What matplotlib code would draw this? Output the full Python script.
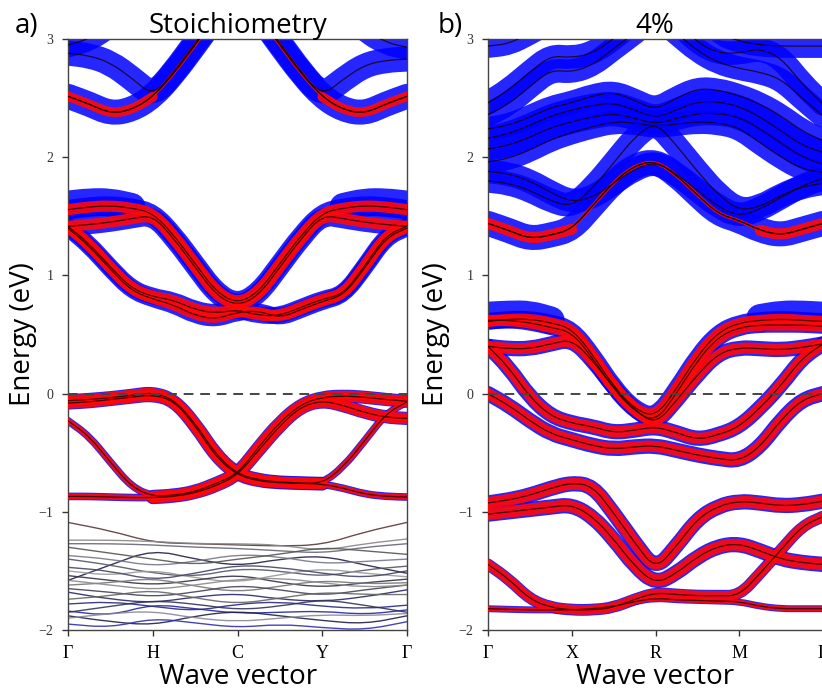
import numpy as np
import matplotlib.pyplot as plt
from matplotlib.path import Path
from matplotlib.patches import PathPatch

nan = np.nan

# k-path sampling: 4 segments, 4 steps each (17 points); valence manifold uses 9 points
K = np.linspace(0, 4, 17)
K9 = np.linspace(0, 4, 9)

labels_a = ["Γ", "H", "C", "Y", "Γ"]
labels_b = ["Γ", "X", "R", "M", "Γ"]
yticks = [-2, -1, 0, 1, 2, 3]
ytick_labels = ["−2", "−1", "0", "1", "2", "3"]

# ---------------- panel a: stoichiometry ----------------
a_up_dip = [2.515, 2.45, 2.37, 2.40, 2.51, 2.71, 2.95, 3.2, 3.4, 3.2, 2.95, 2.71, 2.51, 2.40, 2.37, 2.45, 2.515]
a_up_dip_red = [2.515, 2.45, 2.37, 2.40, 2.51, nan, nan, nan, nan, nan, nan, nan, 2.51, 2.40, 2.37, 2.45, 2.515]
a_up_1 = [2.88, 2.86, 2.80, 2.67, 2.52, 2.72, 2.97, 3.2, 3.4, 3.2, 2.97, 2.72, 2.52, 2.66, 2.78, 2.82, 2.83]
a_up_2 = [2.95, 3.0, 3.12, 3.3, 3.45, 3.6, 3.6, 3.6, 3.6, 3.6, 3.6, 3.6, 3.45, 3.28, 3.08, 2.97, 2.93]
a_cV1 = [1.556, 1.58, 1.59, 1.57, 1.53, 1.34, 1.10, 0.86, 0.76, 0.86, 1.10, 1.34, 1.53, 1.57, 1.59, 1.58, 1.556]
a_cV2 = [1.415, 1.43, 1.45, 1.48, 1.51, 1.31, 1.07, 0.83, 0.74, 0.83, 1.07, 1.31, 1.51, 1.48, 1.45, 1.43, 1.415]
a_cW1 = [1.415, 1.27, 1.07, 0.89, 0.82, 0.79, 0.71, 0.68, 0.71, 0.66, 0.66, 0.73, 0.80, 0.84, 1.08, 1.34, 1.415]
a_cW2 = [1.40, 1.25, 1.05, 0.87, 0.80, 0.75, 0.66, 0.63, 0.69, 0.70, 0.64, 0.71, 0.78, 0.83, 1.06, 1.32, 1.40]
a_c_halo = [1.60, 1.62, 1.62, 1.58, nan, nan, nan, nan, nan, nan, nan, nan, nan, 1.58, 1.62, 1.62, 1.60]

# valence bands near the Fermi level, followed through the crossings
a_v1 = [-0.06, -0.05, -0.035, -0.015, 0.01, -0.05, -0.25, -0.52, -0.68, -0.73, -0.75, -0.755, -0.76, -0.62, -0.40, -0.17, -0.07]
a_v1_thick = [-0.06, -0.05, -0.035, -0.015, 0.01, -0.05, -0.25, -0.52, -0.68, -0.73, -0.75, -0.755, -0.76, nan, nan, nan, nan]
a_v2 = [-0.08, -0.07, -0.05, -0.03, -0.01, -0.06, -0.27, -0.54, -0.69, -0.74, -0.755, -0.76, -0.765, -0.80, -0.85, -0.87, -0.875]
a_v2_thick = [-0.08, -0.07, -0.05, -0.03, -0.01, -0.06, -0.27, -0.54, -0.69, -0.74, -0.755, -0.76, -0.765, nan, nan, nan, nan]
a_v3 = [-0.23, -0.36, -0.58, -0.79, -0.87, -0.86, -0.83, -0.76, -0.68, -0.45, -0.24, -0.09, -0.03, -0.02, -0.03, -0.05, -0.065]
a_v3_thick = [nan, nan, nan, nan, -0.87, -0.86, -0.83, -0.76, -0.68, -0.45, -0.24, -0.09, -0.03, -0.02, -0.03, -0.05, -0.065]
a_v4 = [-0.87, -0.87, -0.875, -0.88, -0.88, -0.87, -0.84, -0.78, -0.69, -0.48, -0.27, -0.11, -0.06, -0.10, -0.16, -0.20, -0.21]
a_v4_thick = [nan, nan, nan, nan, -0.88, -0.87, -0.84, -0.78, -0.69, -0.48, -0.27, -0.11, -0.06, -0.10, -0.16, -0.20, -0.21]

# deep valence manifold (thin lines)
a_deep = [
    [-1.09, -1.16, -1.26, -1.27, -1.28, -1.29, -1.28, -1.17, -1.09],
    [-1.24, -1.24, -1.25, -1.27, -1.27, -1.28, -1.33, -1.27, -1.23],
    [-1.27, -1.27, -1.28, -1.30, -1.31, -1.33, -1.35, -1.30, -1.27],
    [-1.58, -1.45, -1.32, -1.40, -1.46, -1.40, -1.37, -1.45, -1.52],
    [-1.37, -1.40, -1.46, -1.42, -1.36, -1.38, -1.44, -1.42, -1.40],
    [-1.40, -1.45, -1.52, -1.55, -1.48, -1.50, -1.55, -1.49, -1.46],
    [-1.50, -1.54, -1.49, -1.56, -1.60, -1.53, -1.48, -1.52, -1.55],
    [-1.54, -1.58, -1.62, -1.58, -1.53, -1.60, -1.64, -1.60, -1.57],
    [-1.62, -1.60, -1.56, -1.63, -1.68, -1.63, -1.58, -1.61, -1.60],
    [-1.65, -1.68, -1.72, -1.68, -1.62, -1.66, -1.71, -1.66, -1.62],
    [-1.68, -1.74, -1.77, -1.72, -1.69, -1.74, -1.76, -1.72, -1.66],
    [-1.74, -1.71, -1.66, -1.73, -1.78, -1.73, -1.68, -1.70, -1.70],
    [-1.85, -1.80, -1.75, -1.78, -1.83, -1.80, -1.74, -1.79, -1.85],
    [-1.84, -1.88, -1.78, -1.82, -1.86, -1.85, -1.84, -1.87, -1.83],
    [-1.88, -1.93, -1.96, -1.88, -1.84, -1.88, -1.92, -1.95, -1.88],
    [-1.95, -1.98, -1.90, -1.94, -1.98, -1.95, -1.98, -2.00, -1.93],
    [-1.90, -1.86, -1.84, -1.90, -1.93, -1.90, -1.87, -1.88, -1.86],
    [-1.30, -1.35, -1.40, -1.45, -1.40, -1.36, -1.30, -1.33, -1.36],
    [-1.47, -1.50, -1.58, -1.52, -1.45, -1.47, -1.52, -1.56, -1.50],
    [-1.58, -1.62, -1.66, -1.62, -1.57, -1.56, -1.60, -1.64, -1.62],
    [-1.78, -1.76, -1.80, -1.84, -1.78, -1.76, -1.80, -1.82, -1.79],
]
a_deep_colors = ["#5a3a3a", "#888888", "#666677", "#22224a", "#777788", "#555566",
                 "#999999", "#333344", "#777777", "#444455", "#2a2a66", "#666666",
                 "#333355", "#2828a0", "#222244", "#3030b0", "#888899",
                 "#555555", "#444466", "#8a8a8a", "#2a2a80"]

# ---------------- panel b: 4% ----------------
b_T1 = [2.94, 2.96, 3.05, 3.15, 3.25, 3.3, 3.3, 3.3, 3.3, 3.3, 3.3, 3.05, 2.98, 2.95, 2.94, 2.94, 2.94]
b_T2 = [2.46, 2.57, 2.72, 2.86, 2.84, 2.88, 3.0, 3.15, 3.3, 3.15, 2.97, 2.88, 2.88, 2.92, 2.84, 2.62, 2.45]
b_T3 = [2.36, 2.45, 2.60, 2.74, 2.72, 2.78, 2.92, 3.05, 3.2, 3.05, 2.90, 2.80, 2.75, 2.72, 2.66, 2.50, 2.35]
b_C1 = [2.24, 2.27, 2.34, 2.42, 2.46, 2.52, 2.55, 2.48, 2.40, 2.50, 2.58, 2.57, 2.52, 2.45, 2.35, 2.22, 2.14]
b_C2 = [2.16, 2.20, 2.27, 2.35, 2.40, 2.44, 2.46, 2.40, 2.33, 2.40, 2.47, 2.47, 2.43, 2.34, 2.22, 2.10, 2.04]
b_C3 = [2.07, 2.10, 2.17, 2.25, 2.30, 2.34, 2.37, 2.33, 2.28, 2.33, 2.37, 2.37, 2.34, 2.24, 2.12, 2.00, 1.94]
b_C4 = [1.96, 1.99, 2.06, 2.15, 2.21, 2.26, 2.30, 2.29, 2.26, 2.28, 2.30, 2.29, 2.25, 2.12, 2.00, 1.90, 1.87]
b_D1 = [1.80, 1.78, 1.72, 1.63, 1.58, 1.74, 1.95, 2.17, 2.30, 2.10, 1.88, 1.68, 1.55, 1.58, 1.68, 1.75, 1.78]
b_D2 = [1.88, 1.86, 1.80, 1.70, 1.62, 1.66, 1.78, 1.90, 1.96, 1.86, 1.72, 1.58, 1.50, 1.56, 1.66, 1.76, 1.82]
b_E1 = [1.44, 1.38, 1.31, 1.34, 1.39, 1.59, 1.79, 1.93, 1.97, 1.85, 1.68, 1.52, 1.465, 1.38, 1.34, 1.39, 1.44]
b_E1_red = [1.44, 1.38, 1.31, 1.34, 1.39, nan, nan, nan, nan, nan, nan, nan, nan, 1.38, 1.34, 1.39, 1.44]
b_n1 = [0.61, 0.63, 0.63, 0.60, 0.55, 0.33, 0.06, -0.13, -0.20, 0.04, 0.32, 0.52, 0.60, 0.62, 0.63, 0.62, 0.61]
b_n2 = [0.62, 0.62, 0.60, 0.56, 0.52, 0.30, 0.04, -0.15, -0.24, 0.00, 0.28, 0.48, 0.56, 0.58, 0.58, 0.58, 0.57]
b_n3 = [0.40, 0.38, 0.38, 0.42, 0.46, 0.28, 0.05, -0.14, -0.26, -0.06, 0.16, 0.34, 0.39, 0.38, 0.37, 0.39, 0.42]
b_n4 = [0.40, 0.22, -0.03, -0.19, -0.25, -0.28, -0.33, -0.31, -0.28, -0.33, -0.39, -0.35, -0.28, -0.12, 0.07, 0.30, 0.42]
b_n5 = [0.0, -0.10, -0.23, -0.34, -0.39, -0.44, -0.47, -0.45, -0.44, -0.48, -0.52, -0.55, -0.57, -0.45, -0.22, -0.05, 0.0]
b_n_halo = [0.66, 0.67, 0.67, 0.62, nan, nan, nan, nan, nan, nan, nan, nan, nan, 0.64, 0.67, 0.67, 0.66]
b_m1 = [-0.925, -0.90, -0.86, -0.80, -0.755, -0.78, -1.01, -1.26, -1.49, -1.29, -1.06, -0.95, -0.91, -0.925, -0.95, -0.94, -0.91]
b_m2 = [-1.02, -1.00, -0.98, -0.96, -0.94, -1.04, -1.23, -1.46, -1.61, -1.52, -1.38, -1.29, -1.27, -1.33, -1.40, -1.43, -1.445]
b_m3 = [-1.445, -1.57, -1.74, -1.81, -1.83, -1.83, -1.81, -1.74, -1.685, -1.70, -1.71, -1.71, -1.71, -1.52, -1.32, -1.12, -1.04]
b_m4 = [-1.82, -1.825, -1.83, -1.83, -1.83, -1.82, -1.80, -1.76, -1.73, -1.745, -1.75, -1.755, -1.76, -1.80, -1.82, -1.82, -1.82]

BLUE = (0.0, 0.0, 1.0)
RED = (1.0, 0.03, 0.03)


def runs(k, e):
    """Split a band into pieces where it has values (nan = no weight)."""
    out, cur = [], []
    for x, y in zip(k, e):
        if np.isnan(y):
            if len(cur) > 1:
                out.append(cur)
            cur = []
        else:
            cur.append((x, y))
    if len(cur) > 1:
        out.append(cur)
    return out


def smooth_path(pts):
    # quadratic bezier through mid-points, sample points as control points
    pts = np.asarray(pts, dtype=float)
    if len(pts) < 3:
        return Path(pts)
    mids = (pts[:-1] + pts[1:]) / 2
    verts = [pts[0], mids[0]]
    codes = [Path.MOVETO, Path.LINETO]
    for i in range(1, len(pts) - 1):
        verts += [pts[i], mids[i]]
        codes += [Path.CURVE3, Path.CURVE3]
    verts.append(pts[-1])
    codes.append(Path.LINETO)
    return Path(verts, codes)


def stroke(ax, k, e, color, lw, alpha, z, cap="round"):
    for seg in runs(k, np.asarray(e, dtype=float)):
        ax.add_patch(PathPatch(smooth_path(seg), fill=False, edgecolor=color, lw=lw,
                               alpha=alpha, capstyle=cap, joinstyle="round", zorder=z))


def fat(ax, e, blue, red, line=True, red_part=None, k=K):
    if blue:
        stroke(ax, k, e, BLUE, blue, 0.85, 2)
    if red:
        stroke(ax, k, e if red_part is None else red_part, RED, red, 0.92, 3)
    if line:
        stroke(ax, k, e, "#1a0000", 0.9, 0.8, 4)


def style_axes(ax, labels):
    ax.set_xlim(0, 4)
    ax.set_ylim(-2, 3)
    ax.axhline(0, color="#444444", lw=1.4, ls=(0, (5, 3.5)), zorder=6)
    ax.set_xticks(range(5))
    ax.set_xticklabels(labels, fontfamily="Liberation Serif", fontsize=13)
    ax.set_yticks(yticks)
    ax.set_yticklabels(ytick_labels, fontfamily="Liberation Serif", fontsize=10,
                       color="#333333")
    ax.tick_params(axis="both", direction="out", length=4.5, width=1.0,
                   color="#333333", pad=6)
    for sp in ax.spines.values():
        sp.set_linewidth(1.0)
        sp.set_color("#444444")


fig = plt.figure(figsize=(8.22, 6.91), dpi=100)
W, H = 822, 691
ax_a = fig.add_axes([68 / W, 61 / H, 339 / W, 591 / H])
ax_b = fig.add_axes([488 / W, 61 / H, 335 / W, 591 / H])

# panel a
fat(ax_a, a_up_2, 18, 0)
fat(ax_a, a_up_1, 18, 0)
fat(ax_a, a_up_dip, 18, 7, red_part=a_up_dip_red)
fat(ax_a, a_up_dip, 0, 2.5)
fat(ax_a, a_c_halo, 20, 0, line=False)
fat(ax_a, a_cV1, 14, 8)
fat(ax_a, a_cV2, 14, 8)
fat(ax_a, a_cW1, 12, 8)
fat(ax_a, a_cW2, 12, 7)
for band, thick in ((a_v1, a_v1_thick), (a_v2, a_v2_thick),
                    (a_v3, a_v3_thick), (a_v4, a_v4_thick)):
    fat(ax_a, band, 5.5, 4)
    fat(ax_a, thick, 9.5, 8, line=False)
for vals, col in zip(a_deep, a_deep_colors):
    stroke(ax_a, K9, vals, col, 1.0, 0.9, 2)
style_axes(ax_a, labels_a)

# panel b
for band in (b_T1, b_T2, b_T3, b_C1, b_C2, b_C3, b_C4, b_D1, b_D2):
    fat(ax_b, band, 17, 0)
fat(ax_b, b_E1, 18, 8, red_part=b_E1_red)
fat(ax_b, b_E1, 0, 2.5)
fat(ax_b, b_n_halo, 20, 0, line=False)
fat(ax_b, b_n1, 12, 8)
fat(ax_b, b_n2, 11, 8)
fat(ax_b, b_n3, 11, 8)
fat(ax_b, b_n4, 11, 8)
fat(ax_b, b_n5, 11, 8)
fat(ax_b, b_m1, 11, 8.5)
fat(ax_b, b_m2, 11, 8.5)
fat(ax_b, b_m3, 8.5, 7)
fat(ax_b, b_m4, 5, 3.5)
style_axes(ax_b, labels_b)

# text
font = "Open Sans"
fig.text(238 / W, 1 - 33 / H, "Stoichiometry", ha="center", va="baseline",
         fontsize=20, family=font)
fig.text(655 / W, 1 - 33 / H, "4%", ha="center", va="baseline",
         fontsize=20, family=font)
fig.text(27 / W, 1 - 33 / H, "a)", ha="center", va="baseline", fontsize=20, family=font)
fig.text(450 / W, 1 - 33 / H, "b)", ha="center", va="baseline", fontsize=20, family=font)
fig.text(238 / W, 1 - 684 / H, "Wave vector", ha="center", va="baseline",
         fontsize=20, family=font)
fig.text(655 / W, 1 - 684 / H, "Wave vector", ha="center", va="baseline",
         fontsize=20, family=font)
fig.text(23 / W, 1 - 334 / H, "Energy (eV)", ha="center", va="center",
         rotation=90, fontsize=20, family=font)
fig.text(436 / W, 1 - 334 / H, "Energy (eV)", ha="center", va="center",
         rotation=90, fontsize=20, family=font)

fig.savefig("out.png", dpi=100)
